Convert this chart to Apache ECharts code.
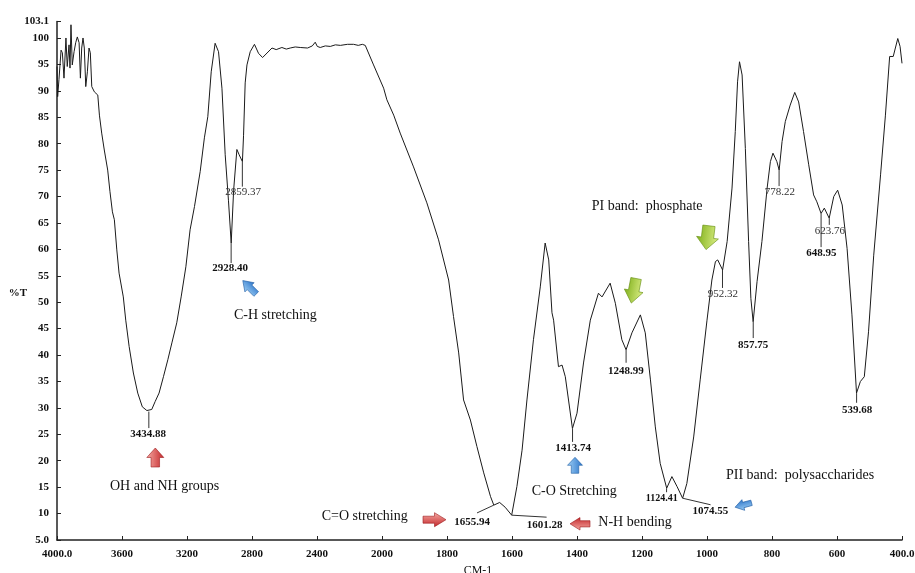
<!DOCTYPE html>
<html>
<head>
<meta charset="utf-8">
<script src="https://cdn.jsdelivr.net/npm/echarts@6/dist/echarts.min.js"></script>
<style>
html, body { margin: 0; padding: 0; background: #fff; }
#chart { width: 915px; height: 573px; }
</style>
</head>
<body>
<div id="chart"></div>
<script>
// spectrum (cm-1, %T)
var wavenumbers = [
  4000, 3996, 3988, 3975, 3967, 3957, 3945, 3937, 3926, 3920,
  3914, 3906, 3895, 3885, 3875, 3864, 3856, 3848, 3840, 3832,
  3823, 3813, 3803, 3795, 3786, 3770, 3749, 3739, 3725, 3709,
  3688, 3674, 3659, 3647, 3632, 3618, 3592, 3577, 3556, 3530,
  3503, 3475, 3447, 3435, 3417, 3396, 3372, 3345, 3318, 3293,
  3263, 3236, 3207, 3181, 3154, 3119, 3093, 3072, 3051, 3027,
  3006, 2985, 2965, 2945, 2928, 2913, 2893, 2879, 2859, 2852,
  2842, 2831, 2811, 2785, 2760, 2735, 2677, 2651, 2616, 2589,
  2565, 2534, 2503, 2458, 2429, 2411, 2398, 2380, 2349, 2318,
  2287, 2256, 2213, 2175, 2146, 2121, 2103, 2052, 1995, 1985,
  1964, 1944, 1903, 1862, 1826, 1795, 1780, 1764, 1749, 1728,
  1708, 1687, 1666, 1656, 1638, 1621, 1601, 1585, 1569, 1554,
  1534, 1513, 1498, 1487, 1477, 1472, 1457, 1446, 1436, 1414,
  1400, 1380, 1359, 1334, 1323, 1298, 1282, 1262, 1249, 1231,
  1205, 1190, 1174, 1159, 1144, 1124, 1108, 1092, 1075, 1062,
  1041, 1021, 1000, 985, 974, 967, 952, 938, 923, 913,
  906, 900, 892, 882, 872, 865, 858, 846, 831, 815,
  805, 797, 785, 778, 769, 759, 744, 730, 718, 703,
  687, 672, 662, 649, 639, 624, 610, 598, 584, 569,
  554, 540, 528, 516, 503, 487, 466, 451, 438, 427,
  423, 413, 406, 400
];
var transmittance = [
  94.6, 88.9, 92.1, 97.7, 97.2, 92.4, 100.0, 94.6, 98.7, 94.3,
  102.5, 94.9, 97.4, 99.1, 100.2, 99.1, 92.4, 98.1, 100.0, 98.1,
  90.8, 93.6, 98.1, 97.2, 90.8, 89.8, 89.2, 85.4, 82.0, 78.8,
  75.0, 70.9, 67.1, 65.6, 59.9, 55.5, 51.0, 46.6, 41.6, 36.6,
  32.8, 30.2, 29.5, 29.3, 29.7, 31.2, 32.8, 35.9, 39.1, 42.3,
  46.1, 51.0, 56.7, 63.7, 68.1, 74.7, 81.1, 85.1, 93.6, 99.0,
  97.4, 90.5, 77.9, 69.3, 61.2, 71.2, 78.9, 77.9, 76.6, 81.6,
  91.5, 94.9, 97.4, 98.8, 97.1, 96.3, 98.1, 97.8, 98.2, 97.9,
  98.1, 98.3, 98.2, 98.1, 98.5, 99.2, 98.4, 98.2, 98.5, 98.4,
  98.7, 98.6, 98.8, 98.8, 98.6, 98.8, 98.6, 94.9, 90.5, 88.3,
  85.4, 82.0, 75.6, 68.8, 61.8, 54.2, 47.3, 40.4, 31.5, 27.7,
  22.7, 17.7, 13.2, 11.6, 12.1, 11.2, 9.7, 15.1, 22.0, 31.5,
  42.9, 52.9, 61.2, 58.0, 48.0, 46.6, 37.8, 38.1, 35.9, 26.1,
  29.0, 38.5, 46.6, 51.7, 51.0, 53.6, 49.8, 42.9, 41.0, 44.2,
  47.6, 44.2, 35.3, 26.4, 19.5, 14.8, 17.0, 15.1, 12.9, 15.7,
  24.5, 35.3, 46.6, 54.2, 57.7, 58.0, 56.1, 61.5, 71.6, 82.3,
  91.7, 95.5, 93.0, 79.1, 61.5, 50.7, 46.3, 53.9, 61.5, 71.6,
  76.6, 78.2, 76.6, 75.0, 80.4, 84.2, 87.3, 89.7, 87.9, 82.3,
  76.0, 70.3, 69.0, 66.8, 67.8, 65.9, 70.0, 71.2, 68.4, 60.2,
  47.6, 32.8, 35.0, 35.9, 44.4, 58.9, 74.1, 85.4, 96.5, 96.5,
  96.2, 99.9, 98.4, 95.2
];

// labelled peaks
var peakWavenumbers = [3434.88, 2928.40, 2859.37, 1655.94, 1601.28, 1413.74, 1248.99, 1124.41, 1074.55, 952.32, 857.75, 778.22, 648.95, 623.76, 539.68];
var peakValues = [29.3, 61.2, 76.6, 11.6, 9.7, 26.1, 41.0, 14.8, 12.9, 56.1, 46.3, 75.0, 66.8, 65.9, 32.8];

var bandNotes = ['OH and NH groups', 'C-H stretching', 'C=O stretching', 'N-H bending', 'C-O Stretching', 'PII band:  polysaccharides', 'PI band:  phosphate'];

var xTickLabels = ['4000.0', '3600', '3200', '2800', '2400', '2000', '1800', '1600', '1400', '1200', '1000', '800', '600', '400.0'];

// layout of the annotations (pixels)
// leader end dx,dy / label dx,dy / weight / size
var peakLayout = [
  [0, 16.5, -0.7, 22.5, 'bold', 11],
  [0, 20, -1, 25.5, 'bold', 11],
  [0, 25, 0.8, 30.3, 'normal', 11],
  [-16.8, 7.8, -21.8, 17, 'bold', 11],
  [35, 2, 33, 9.5, 'bold', 11],
  [0, 13.4, 0.6, 19.2, 'bold', 11],
  [0, 13, -0.3, 21, 'bold', 11],
  [0, 4, -4.8, 10, 'bold', 10],
  [27.8, 6.5, 27.5, 12.5, 'bold', 11],
  [0, 18, 0.5, 24, 'normal', 11],
  [0, 16.3, -0.2, 23.3, 'bold', 11],
  [0, 16, 0.7, 21.7, 'normal', 11],
  [0, 33.7, 0.2, 40, 'bold', 11],
  [0, 6.7, 0.5, 12.7, 'normal', 11],
  [0, 9.7, 0.4, 16.7, 'bold', 11]
];
var noteLayout = [[110, 486], [234, 315], [321.7, 516], [598.3, 522.7], [531.7, 491], [726, 475], [591.7, 206.7]];
// cx, cy, length, height, angle, colour
var arrowLayout = [
  [155.3, 457.5, 19, 17, 90, 'red'],
  [434.5, 519.7, 23, 14, 0, 'red'],
  [580, 523.8, 20, 12.5, 180, 'red'],
  [575, 465.3, 16, 15, 90, 'blue'],
  [743.3, 505, 17, 11, 195, 'blue'],
  [249.5, 287.3, 19, 13, 135, 'blue'],
  [707.5, 237.7, 24, 22, -97, 'green'],
  [633.7, 290.8, 25, 19, -101, 'green']
];
var arrowColors = {
  red: ['#f6aaa3', '#c3262a', '#9c1c1f'],
  blue: ['#9fd0f6', '#2b74c9', '#1f5ca3'],
  green: ['#dcef86', '#80b01c', '#668f12']
};

var serif = '"Liberation Serif", "Times New Roman", serif';

// the spectrometer axis: 4000-2000 at half scale, 2000-400 at full scale
function toAxis(wn) {
  return wn >= 2000 ? (4000 - wn) / 2 : 3000 - wn;
}

var chart = echarts.init(document.getElementById('chart'));

var seriesData = wavenumbers.map(function (w, i) {
  return [toAxis(w), transmittance[i]];
});

chart.setOption({
  animation: false,
  grid: { left: 57, right: 13, top: 21.6, bottom: 33, containLabel: false, outerBoundsMode: 'none' },
  xAxis: {
    type: 'value', min: 0, max: 2600, interval: 200,
    axisLine: { show: true, onZero: false, lineStyle: { color: '#222', width: 1.5 } },
    axisTick: { show: true, inside: true, length: 4, lineStyle: { color: '#222' } },
    splitLine: { show: false },
    axisLabel: {
      margin: 9, color: '#111', fontFamily: serif, fontWeight: 'bold', fontSize: 11,
      showMinLabel: true, showMaxLabel: true,
      formatter: function (v) { return xTickLabels[Math.round(v / 200)]; }
    }
  },
  yAxis: {
    type: 'value', min: 5, max: 103.1, interval: 5,
    axisLine: { show: true, lineStyle: { color: '#222', width: 1.5 } },
    axisTick: { show: true, inside: true, length: 4, lineStyle: { color: '#222' } },
    splitLine: { show: false },
    axisLabel: {
      margin: 8, color: '#111', fontFamily: serif, fontWeight: 'bold', fontSize: 11,
      showMinLabel: true, showMaxLabel: true,
      formatter: function (v) {
        if (v === 5) return '5.0';
        if (v > 100.5) return '103.1';
        return String(v);
      }
    }
  },
  series: [{
    type: 'line',
    data: seriesData,
    symbol: 'none',
    showSymbol: false,
    silent: true,
    lineStyle: { color: '#1a1a1a', width: 1 }
  }]
});

function arrowPoints(L, H, fat) {
  var h = H * (fat ? 0.56 : 0.5) / 2, hl = L * 0.5;
  return [[-L / 2, -h], [L / 2 - hl, -h], [L / 2 - hl, -H / 2], [L / 2, 0],
          [L / 2 - hl, H / 2], [L / 2 - hl, h], [-L / 2, h]];
}

var graphics = [];

peakWavenumbers.forEach(function (wn, i) {
  var p = chart.convertToPixel({ gridIndex: 0 }, [toAxis(wn), peakValues[i]]);
  var l = peakLayout[i];
  graphics.push({
    type: 'line', silent: true, z: 10,
    shape: { x1: p[0], y1: p[1], x2: p[0] + l[0], y2: p[1] + l[1] },
    style: { stroke: '#333', lineWidth: 1 }
  });
  graphics.push({
    type: 'text', silent: true, z: 10,
    x: p[0] + l[2], y: p[1] + l[3],
    style: {
      text: wn.toFixed(2),
      font: l[4] + ' ' + l[5] + 'px ' + serif,
      fill: l[4] === 'bold' ? '#111' : '#333',
      align: 'center', verticalAlign: 'middle'
    }
  });
});

bandNotes.forEach(function (t, i) {
  graphics.push({
    type: 'text', silent: true, z: 10,
    x: noteLayout[i][0], y: noteLayout[i][1],
    style: { text: t, font: '14px ' + serif, fill: '#111', align: 'left', verticalAlign: 'middle' }
  });
});

arrowLayout.forEach(function (a) {
  var c = arrowColors[a[5]];
  graphics.push({
    type: 'polygon', silent: true, z: 10,
    x: a[0], y: a[1], rotation: a[4] * Math.PI / 180,
    shape: { points: arrowPoints(a[2], a[3], a[5] === 'green') },
    style: {
      fill: new echarts.graphic.LinearGradient(0, 0, 0, 1, [
        { offset: 0, color: c[0] }, { offset: 1, color: c[1] }
      ]),
      stroke: c[2], lineWidth: 0.6
    }
  });
});

// axis names
graphics.push({
  type: 'text', silent: true, x: 18, y: 293,
  style: { text: '%T', font: 'bold 11px ' + serif, fill: '#111', align: 'center', verticalAlign: 'middle' }
});
graphics.push({
  type: 'text', silent: true, x: 478, y: 565,
  style: { text: 'CM-1', font: '12px ' + serif, fill: '#111', align: 'center', verticalAlign: 'top' }
});

chart.setOption({ graphic: graphics });
</script>
</body>
</html>
